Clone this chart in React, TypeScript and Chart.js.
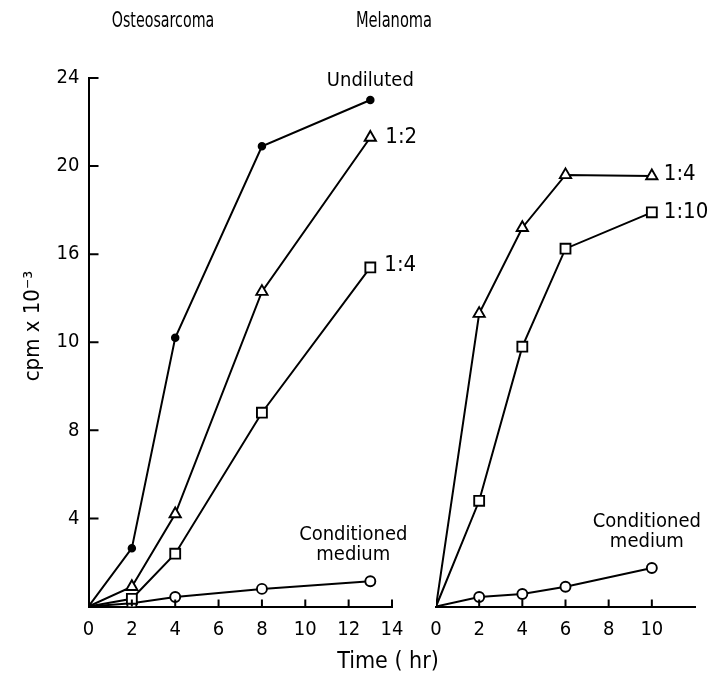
import React, { useEffect, useRef } from "react";
import { Chart, registerables } from "chart.js";

Chart.register(...registerables);

// ---------- data ----------
const osteoTimes = [0, 2, 4, 8, 13];
const osteoUndiluted = [0, 2.65, 12.2, 20.9, 23.0];
const osteo1to2 = [0, 0.9, 4.2, 14.3, 21.3];
const osteo1to4 = [0, 0.35, 2.4, 8.8, 15.4];
const osteoConditioned = [0, 0.15, 0.43, 0.8, 1.15];

const melTimes = [0, 2, 4, 6, 10];
const mel1to4 = [0, 13.3, 17.2, 19.6, 19.55];
const mel1to10 = [0, 4.8, 11.8, 16.25, 17.9];
const melConditioned = [0, 0.43, 0.57, 0.9, 1.75];

const yTickValues = [4, 8, 12, 16, 20, 24];
const yTickLabels = ["4", "8", "10", "16", "20", "24"];
const osteoXTickValues = [0, 2, 4, 6, 8, 10, 12, 14];
const melXTickValues = [0, 2, 4, 6, 8, 10];

const panelTitles = ["Osteosarcoma", "Melanoma"];
const yAxisTitle = "cpm x 10\u207B\u00B3";
const xAxisTitle = "Time ( hr)";

// ---------- layout / style ----------
const W = 709;
const H = 679;
const FONT = "'Liberation Sans Narrow', 'DejaVu Sans Condensed', 'Liberation Sans', sans-serif";
const AREA_TOP = 78;
const AREA_BOTTOM = 606.5;
const LEFT_AREA_LEFT = 88.5;
const LEFT_AREA_RIGHT = 392;
const RIGHT_AREA_LEFT = 436;
const RIGHT_AREA_RIGHT = 695;

const pts = (xs: number[], ys: number[]) => xs.map((x, i) => ({ x, y: ys[i] }));
const radii = (n: number, r: number) => Array.from({ length: n }, (_, i) => (i === 0 ? 0 : r));

function series(xs: number[], ys: number[], style: string) {
  const base: any = {
    data: pts(xs, ys),
    borderColor: "#000",
    borderWidth: 2,
    tension: 0,
    pointBorderColor: "#000",
    pointBorderWidth: 1.9,
    pointBackgroundColor: "#fff",
    pointHoverRadius: 0,
  };
  if (style === "dot") {
    base.pointStyle = "circle";
    base.pointRadius = radii(xs.length, 3.3);
    base.pointBackgroundColor = "#000";
  } else if (style === "triangle") {
    base.pointStyle = "triangle";
    base.pointRadius = radii(xs.length, 6.5);
  } else if (style === "square") {
    base.pointStyle = "rect";
    base.pointRadius = radii(xs.length, 7);
  } else {
    base.pointStyle = "circle";
    base.pointRadius = radii(xs.length, 5);
  }
  return base;
}

// inward tick marks drawn from the scales
const inwardTicks = {
  id: "inwardTicks",
  afterDatasetsDraw(chart: any, _args: any, opts: any) {
    const ctx = chart.ctx;
    const xs = chart.scales.x;
    const ys = chart.scales.y;
    ctx.save();
    ctx.strokeStyle = "#000";
    ctx.lineWidth = 2;
    ctx.beginPath();
    (opts.xTicks || []).forEach((v: number) => {
      const px = xs.getPixelForValue(v);
      ctx.moveTo(px, AREA_BOTTOM);
      ctx.lineTo(px, AREA_BOTTOM - 7);
    });
    (opts.yTicks || []).forEach((v: number) => {
      const py = ys.getPixelForValue(v);
      ctx.moveTo(chart.chartArea.left, py);
      ctx.lineTo(chart.chartArea.left + 10, py);
    });
    ctx.stroke();
    ctx.restore();
  },
};

// annotations: text anchored to data values or to pixels
const annotations = {
  id: "annotations",
  afterDatasetsDraw(chart: any, _args: any, opts: any) {
    const ctx = chart.ctx;
    (opts.items || []).forEach((it: any) => {
      let x = it.px ?? 0;
      let y = it.py ?? 0;
      if (it.dataX !== undefined) {
        x = chart.scales.x.getPixelForValue(it.dataX) + (it.dx || 0);
        y = chart.scales.y.getPixelForValue(it.dataY) + (it.dy || 0);
      }
      ctx.save();
      ctx.fillStyle = "#000";
      ctx.textBaseline = "middle";
      ctx.font = `${it.size || 17}px ${FONT}`;
      ctx.textAlign = it.align || "center";
      ctx.translate(x, y);
      if (it.rotate) ctx.rotate(it.rotate);
      ctx.scale(it.sx || 1, 1);
      ctx.fillText(it.text, 0, 0);
      ctx.restore();
    });
  },
};

function makeXScale(max: number, tickValues: number[]) {
  return {
    type: "linear",
    min: 0,
    max,
    afterBuildTicks: (s: any) => {
      s.ticks = tickValues.map((v) => ({ value: v }));
    },
    afterFit: (s: any) => {
      s.height = H - AREA_BOTTOM;
    },
    grid: { display: false, drawTicks: false },
    border: { display: true, color: "#000", width: 2 },
    ticks: {
      color: "#000",
      padding: 11,
      autoSkip: false,
      maxRotation: 0,
      font: { family: FONT, size: 20 },
      callback: (v: any) => String(v),
    },
  };
}

function LeftPanel() {
  const ref = useRef<HTMLCanvasElement>(null);
  useEffect(() => {
    const chart = new Chart(ref.current as HTMLCanvasElement, {
      type: "line",
      data: {
        datasets: [
          series(osteoTimes, osteoUndiluted, "dot"),
          series(osteoTimes, osteo1to2, "triangle"),
          series(osteoTimes, osteo1to4, "square"),
          series(osteoTimes, osteoConditioned, "circle"),
        ],
      },
      options: {
        animation: false,
        responsive: false,
        maintainAspectRatio: false,
        events: [],
        layout: { padding: { left: 0, right: W - LEFT_AREA_RIGHT, top: AREA_TOP, bottom: 0 } },
        plugins: {
          legend: { display: false },
          tooltip: { enabled: false },
          inwardTicks: { xTicks: osteoXTickValues.slice(1), yTicks: yTickValues },
          annotations: {
            items: [
              { text: panelTitles[0], px: 163, py: 21, size: 22, sx: 0.72 },
              { text: xAxisTitle, px: 388, py: 662, size: 23 },
              { text: yAxisTitle, px: 33, py: 326, size: 22, rotate: -Math.PI / 2 },
              { text: "Undiluted", dataX: 13, dataY: 23.0, dx: 0, dy: -19, size: 20 },
              { text: "1:2", dataX: 13, dataY: 21.3, dx: 15, dy: 0, align: "left", size: 22 },
              { text: "1:4", dataX: 13, dataY: 15.4, dx: 14, dy: -2, align: "left", size: 22 },
              { text: "Conditioned", dataX: 13, dataY: 1.15, dx: -17, dy: -46, size: 20 },
              { text: "medium", dataX: 13, dataY: 1.15, dx: -17, dy: -26, size: 20 },
            ],
          },
        } as any,
        scales: {
          x: makeXScale(14, osteoXTickValues) as any,
          y: {
            type: "linear",
            min: 0,
            max: 24,
            afterBuildTicks: (s: any) => {
              s.ticks = yTickValues.map((v) => ({ value: v }));
            },
            afterFit: (s: any) => {
              s.width = LEFT_AREA_LEFT;
            },
            grid: { display: false, drawTicks: false },
            border: { display: true, color: "#000", width: 2 },
            ticks: {
              color: "#000",
              padding: 9,
              autoSkip: false,
              font: { family: FONT, size: 20 },
              callback: (v: any) => {
                const i = yTickValues.indexOf(Number(v));
                return i >= 0 ? yTickLabels[i] : "";
              },
            },
          } as any,
        },
      },
      plugins: [inwardTicks, annotations],
    });
    return () => chart.destroy();
  }, []);
  return (
    <canvas
      ref={ref}
      width={W}
      height={H}
      style={{ position: "absolute", left: 0, top: 0, width: W, height: H }}
    />
  );
}

function RightPanel() {
  const ref = useRef<HTMLCanvasElement>(null);
  useEffect(() => {
    const chart = new Chart(ref.current as HTMLCanvasElement, {
      type: "line",
      data: {
        datasets: [
          series(melTimes, mel1to4, "triangle"),
          series(melTimes, mel1to10, "square"),
          series(melTimes, melConditioned, "circle"),
        ],
      },
      options: {
        animation: false,
        responsive: false,
        maintainAspectRatio: false,
        events: [],
        layout: {
          padding: { left: RIGHT_AREA_LEFT, right: W - RIGHT_AREA_RIGHT, top: AREA_TOP, bottom: 0 },
        },
        plugins: {
          legend: { display: false },
          tooltip: { enabled: false },
          inwardTicks: { xTicks: melXTickValues.slice(1), yTicks: [] },
          annotations: {
            items: [
              { text: panelTitles[1], px: 394, py: 21, size: 22, sx: 0.74 },
              { text: "1:4", dataX: 10, dataY: 19.55, dx: 12, dy: -2, align: "left", size: 22 },
              { text: "1:10", dataX: 10, dataY: 17.9, dx: 12, dy: 0, align: "left", size: 22 },
              { text: "Conditioned", dataX: 10, dataY: 1.75, dx: -5, dy: -46, size: 20 },
              { text: "medium", dataX: 10, dataY: 1.75, dx: -5, dy: -26, size: 20 },
            ],
          },
        } as any,
        scales: {
          x: makeXScale(12, melXTickValues) as any,
          y: { type: "linear", min: 0, max: 24, display: false } as any,
        },
      },
      plugins: [inwardTicks, annotations],
    });
    return () => chart.destroy();
  }, []);
  return (
    <canvas
      ref={ref}
      width={W}
      height={H}
      style={{ position: "absolute", left: 0, top: 0, width: W, height: H }}
    />
  );
}

export default function App() {
  useEffect(() => {
    document.body.style.margin = "0";
    document.body.style.background = "#fff";
  }, []);
  return (
    <div style={{ position: "relative", width: W, height: H, background: "#fff" }}>
      <LeftPanel />
      <RightPanel />
    </div>
  );
}
